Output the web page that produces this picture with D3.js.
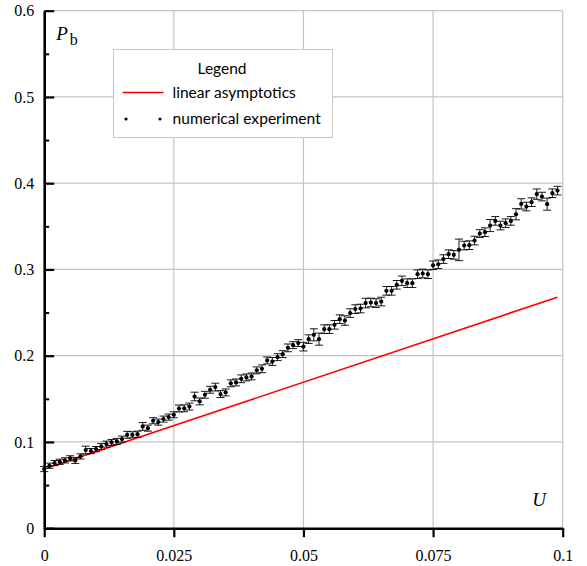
<!DOCTYPE html>
<html>
<head>
<meta charset="utf-8">
<script src="https://cdn.jsdelivr.net/npm/d3@7"></script>
<style>
  html, body { margin: 0; padding: 0; background: #fff; }
  svg { display: block; }
</style>
</head>
<body>
<svg id="chart" width="587" height="566"></svg>
<script>
// U values of the numerical experiment (step 0.001)
var uValues = [
    0.000, 0.001, 0.002, 0.003, 0.004, 0.005, 0.006, 0.007, 0.008, 0.009,
    0.010, 0.011, 0.012, 0.013, 0.014, 0.015, 0.016, 0.017, 0.018, 0.019,
    0.020, 0.021, 0.022, 0.023, 0.024, 0.025, 0.026, 0.027, 0.028, 0.029,
    0.030, 0.031, 0.032, 0.033, 0.034, 0.035, 0.036, 0.037, 0.038, 0.039,
    0.040, 0.041, 0.042, 0.043, 0.044, 0.045, 0.046, 0.047, 0.048, 0.049,
    0.050, 0.051, 0.052, 0.053, 0.054, 0.055, 0.056, 0.057, 0.058, 0.059,
    0.060, 0.061, 0.062, 0.063, 0.064, 0.065, 0.066, 0.067, 0.068, 0.069,
    0.070, 0.071, 0.072, 0.073, 0.074, 0.075, 0.076, 0.077, 0.078, 0.079,
    0.080, 0.081, 0.082, 0.083, 0.084, 0.085, 0.086, 0.087, 0.088, 0.089,
    0.090, 0.091, 0.092, 0.093, 0.094, 0.095, 0.096, 0.097, 0.098, 0.099
];

// P_b
var pbValues = [
    0.0686, 0.0724, 0.0755, 0.0770, 0.0786, 0.0810, 0.0786, 0.0832, 0.0906, 0.0894,
    0.0917, 0.0948, 0.0975, 0.0994, 0.1006, 0.1033, 0.1083, 0.1083, 0.1090, 0.1180,
    0.1160, 0.1246, 0.1230, 0.1265, 0.1288, 0.1315, 0.1388, 0.1390, 0.1410, 0.1527,
    0.1470, 0.1547, 0.1605, 0.1636, 0.1555, 0.1574, 0.1680, 0.1690, 0.1732, 0.1748,
    0.1760, 0.1830, 0.1848, 0.1945, 0.1933, 0.1983, 0.2018, 0.2091, 0.2122, 0.2146,
    0.2105, 0.2192, 0.2242, 0.2192, 0.2308, 0.2308, 0.2358, 0.2424, 0.2408, 0.2494,
    0.2540, 0.2547, 0.2610, 0.2617, 0.2610, 0.2628, 0.2752, 0.2752, 0.2822, 0.2868,
    0.2841, 0.2841, 0.2945, 0.2953, 0.2945, 0.3048, 0.3060, 0.3120, 0.3177, 0.3169,
    0.3227, 0.3277, 0.3281, 0.3335, 0.3416, 0.3432, 0.3509, 0.3563, 0.3509, 0.3536,
    0.3563, 0.3640, 0.3760, 0.3729, 0.3780, 0.3873, 0.3845, 0.3757, 0.3884, 0.3914
];

// half-height of the error bars
var pbErrors = [
    0.0030, 0.0030, 0.0030, 0.0030, 0.0030, 0.0030, 0.0035, 0.0030, 0.0045, 0.0030,
    0.0030, 0.0035, 0.0035, 0.0035, 0.0035, 0.0035, 0.0040, 0.0035, 0.0035, 0.0045,
    0.0035, 0.0035, 0.0035, 0.0035, 0.0035, 0.0035, 0.0040, 0.0040, 0.0040, 0.0050,
    0.0040, 0.0040, 0.0040, 0.0045, 0.0040, 0.0040, 0.0040, 0.0040, 0.0045, 0.0040,
    0.0040, 0.0040, 0.0045, 0.0040, 0.0045, 0.0040, 0.0040, 0.0045, 0.0040, 0.0040,
    0.0050, 0.0050, 0.0070, 0.0070, 0.0050, 0.0050, 0.0050, 0.0050, 0.0055, 0.0050,
    0.0050, 0.0050, 0.0055, 0.0050, 0.0050, 0.0050, 0.0050, 0.0050, 0.0050, 0.0055,
    0.0050, 0.0050, 0.0050, 0.0050, 0.0050, 0.0050, 0.0050, 0.0050, 0.0050, 0.0050,
    0.0125, 0.0050, 0.0050, 0.0050, 0.0045, 0.0050, 0.0070, 0.0050, 0.0050, 0.0050,
    0.0050, 0.0065, 0.0060, 0.0050, 0.0050, 0.0060, 0.0050, 0.0070, 0.0050, 0.0050
];

// linear asymptotics (two end points)
var lineU = [0, 0.099];
var linePb = [0.0686, 0.2679];

var xTicks = [0, 0.025, 0.05, 0.075, 0.1];
var xTickLabels = ["0", "0.025", "0.05", "0.075", "0.1"];
var yTicks = [0, 0.1, 0.2, 0.3, 0.4, 0.5, 0.6];
var yTickLabels = ["0", "0.1", "0.2", "0.3", "0.4", "0.5", "0.6"];
var yMinorTicks = [0.05, 0.15, 0.25, 0.35, 0.45, 0.55];

var legendTitle = "Legend";
var legendLabels = ["linear asymptotics", "numerical experiment"];

{
    var margin = {top: 10.7, right: 24.3, bottom: 37.8, left: 44.2};
    var width = 587 - margin.left - margin.right;
    var height = 566 - margin.top - margin.bottom;

    var palette = {
        grid: "#c4c4c4",
        red: "#ff0000",
        ink: "#000000"
    };

    var svg = d3.select("#chart")
        .append("g")
        .attr("transform", `translate(${margin.left},${margin.top})`);

    var x = d3.scaleLinear().domain([0, 0.1]).range([0, width]);
    var y = d3.scaleLinear().domain([0, 0.6]).range([height, 0]);

    var points = uValues.map((u, i) => ({u: u, p: pbValues[i], e: pbErrors[i]}));

    /**
     * Grid
     */
    svg.append("g").selectAll("line.vgrid")
        .data(xTicks.filter(d => d > 0))
        .enter().append("line")
        .attr("x1", d => x(d)).attr("x2", d => x(d))
        .attr("y1", 0).attr("y2", height)
        .attr("stroke", palette.grid).attr("stroke-width", 1.2);

    svg.append("g").selectAll("line.hgrid")
        .data(yTicks.filter(d => d > 0))
        .enter().append("line")
        .attr("x1", 0).attr("x2", width)
        .attr("y1", d => y(d)).attr("y2", d => y(d))
        .attr("stroke", palette.grid).attr("stroke-width", 1.2);

    /**
     * Linear asymptotics
     */
    var line = d3.line().x(d => x(d[0])).y(d => y(d[1]));
    svg.append("path")
        .datum(lineU.map((u, i) => [u, linePb[i]]))
        .attr("d", line)
        .attr("fill", "none")
        .attr("stroke", palette.red)
        .attr("stroke-width", 1.6);

    /**
     * Error bars and points
     */
    var capHalf = 4;
    var errs = svg.append("g").attr("stroke", palette.ink).attr("stroke-width", 0.9);
    errs.selectAll("line.stem")
        .data(points).enter().append("line")
        .attr("x1", d => x(d.u)).attr("x2", d => x(d.u))
        .attr("y1", d => y(d.p - d.e)).attr("y2", d => y(d.p + d.e));
    errs.selectAll("line.top")
        .data(points).enter().append("line")
        .attr("x1", d => x(d.u) - capHalf).attr("x2", d => x(d.u) + capHalf)
        .attr("y1", d => y(d.p + d.e)).attr("y2", d => y(d.p + d.e));
    errs.selectAll("line.bottom")
        .data(points).enter().append("line")
        .attr("x1", d => x(d.u) - capHalf).attr("x2", d => x(d.u) + capHalf)
        .attr("y1", d => y(d.p - d.e)).attr("y2", d => y(d.p - d.e));

    svg.append("g").selectAll("circle")
        .data(points).enter().append("circle")
        .attr("cx", d => x(d.u))
        .attr("cy", d => y(d.p))
        .attr("r", 2.1)
        .attr("fill", palette.ink);

    /**
     * Axes
     */
    var serif = "'Liberation Serif', 'DejaVu Serif', serif";

    var xAxis = svg.append("g")
        .attr("transform", `translate(0,${height})`)
        .call(d3.axisBottom(x)
            .tickValues(xTicks)
            .tickFormat((d, i) => xTickLabels[i])
            .tickSizeInner(9).tickSizeOuter(0)
            .tickPadding(12));

    var yAxis = svg.append("g")
        .call(d3.axisLeft(y)
            .tickValues(yTicks)
            .tickFormat((d, i) => yTickLabels[i])
            .tickSizeInner(-10).tickSizeOuter(0)
            .tickPadding(10));

    svg.append("g")
        .call(d3.axisLeft(y).tickValues(yMinorTicks).tickFormat("").tickSizeInner(-5).tickSizeOuter(0))
        .call(g => g.select(".domain").remove())
        .selectAll("line").attr("stroke-width", 2);

    [xAxis, yAxis].forEach(a => {
        a.select(".domain").attr("stroke-width", 2.6);
        a.selectAll(".tick line").attr("stroke-width", 2.2);
        a.selectAll("text")
            .attr("font-family", serif)
            .attr("font-size", 16)
            .attr("fill", palette.ink);
    });

    /**
     * Axis titles
     */
    svg.append("text")
        .attr("x", 488).attr("y", 506 - margin.top)
        .attr("font-family", serif).attr("font-size", 19)
        .attr("font-style", "italic")
        .text("U");

    var pLabel = svg.append("text")
        .attr("x", 12).attr("y", 40 - margin.top)
        .attr("font-family", serif).attr("font-size", 19);
    pLabel.append("tspan").attr("font-style", "italic").text("P");
    pLabel.append("tspan").attr("dx", 2).attr("dy", 5).attr("font-size", 16).text("b");

    /**
     * Legend
     */
    var sans = "Lato, 'Open Sans', sans-serif";
    var legend = d3.select("#chart").append("g").attr("transform", "translate(113.5,49.5)");
    legend.append("rect")
        .attr("width", 219).attr("height", 88)
        .attr("fill", "#fff")
        .attr("stroke", "#c8c8c8").attr("stroke-width", 1);
    legend.append("text")
        .attr("x", 108.5).attr("y", 24)
        .attr("text-anchor", "middle")
        .attr("font-family", sans).attr("font-size", 15.5)
        .text(legendTitle);
    legend.append("line")
        .attr("x1", 9).attr("x2", 50).attr("y1", 43).attr("y2", 43)
        .attr("stroke", palette.red).attr("stroke-width", 1.6);
    legend.append("text")
        .attr("x", 59).attr("y", 48)
        .attr("font-family", sans).attr("font-size", 15.6)
        .text(legendLabels[0]);
    legend.selectAll("circle.key")
        .data([12.5, 46.5]).enter().append("circle")
        .attr("cx", d => d).attr("cy", 69.5).attr("r", 1.6)
        .attr("fill", palette.ink);
    legend.append("text")
        .attr("x", 59).attr("y", 74)
        .attr("font-family", sans).attr("font-size", 15.6)
        .text(legendLabels[1]);
}
</script>
</body>
</html>
